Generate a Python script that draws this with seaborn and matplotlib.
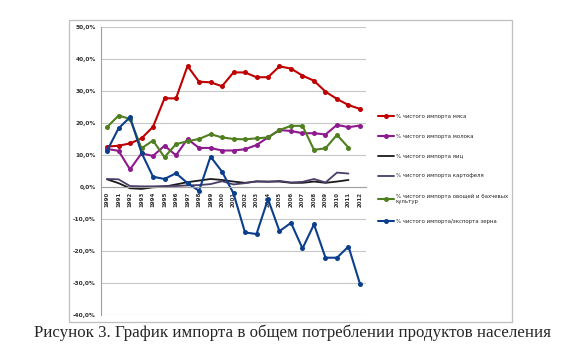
import numpy as np
import pandas as pd
import seaborn as sns
import matplotlib
matplotlib.use("Agg")
import matplotlib.pyplot as plt
from matplotlib.patches import Rectangle
from matplotlib.ticker import FuncFormatter

# годы и доли импорта, %
years = list(range(1990, 2013))

meat = [12.6, 12.9, 13.6, 15.2, 18.8, 27.7, 27.7, 37.8, 32.9, 32.7, 31.5, 35.8,
        35.8, 34.3, 34.3, 37.7, 37.0, 34.8, 33.2, 29.8, 27.5, 25.6, 24.4]
milk = [11.9, 11.3, 5.5, 10.5, 9.7, 12.9, 9.9, 15.0, 12.2, 12.2, 11.4, 11.4,
        11.8, 13.1, 15.5, 17.8, 17.5, 16.8, 16.8, 16.4, 19.4, 18.7, 19.2]
eggs = [2.4, 1.2, -0.4, -0.6, -0.1, 0.1, 0.8, 1.5, 2.0, 2.5, 2.2, 1.7,
        1.3, 1.7, 1.7, 1.7, 1.3, 1.3, 1.7, 1.3, 1.7, 2.2, np.nan]
potato = [2.5, 2.4, 0.3, 0.2, 0.2, 0.3, 0.3, 0.5, 0.6, 0.9, 1.8, 0.8,
          1.2, 1.8, 1.6, 1.9, 1.4, 1.6, 2.5, 1.4, 4.5, 4.2, np.nan]
veg = [18.7, 22.3, 21.3, 12.1, 14.5, 9.3, 13.4, 14.3, 15.0, 16.5, 15.5, 15.0,
       14.9, 15.2, 15.5, 17.8, 19.1, 19.1, 11.6, 12.1, 16.3, 12.3, np.nan]
grain = [11.3, 18.3, 21.8, 10.7, 3.2, 2.5, 4.3, 1.2, -1.2, 9.5, 4.8, -2.0,
         -14.2, -14.7, -3.8, -13.8, -11.2, -19.2, -11.7, -22.1, -22.1, -18.6, -30.3]

labels = [
    "% чистого импорта мяса",
    "% чистого импорта молока",
    "% чистого импорта яиц",
    "% чистого импорта картофеля",
    "% чистого импорта овощей и бахчевых\nкультур",
    "% чистого импорта/экспорта зерна",
]
colors = ["#C00000", "#8E1B8E", "#1A1A1A", "#4A3D68", "#4F7F1E", "#0B3F8C"]
has_marker = [True, True, False, False, True, True]

df = pd.DataFrame({"year": years})
for lab, vals in zip(labels, [meat, milk, eggs, potato, veg, grain]):
    df[lab] = vals

sns.set_style("white")
plt.rcParams["font.family"] = ["DejaVu Sans"]

fig = plt.figure(figsize=(5.81, 3.56), dpi=100)
ax = fig.add_axes([0.1743, 0.1152, 0.4552, 0.809])

for lab, col, mk in zip(labels, colors, has_marker):
    sns.lineplot(data=df, x="year", y=lab, ax=ax, color=col, label=lab,
                 marker="o" if mk else None, markersize=3.6 if mk else 0,
                 markeredgewidth=0, linewidth=1.5 if mk else 1.3)

ax.set_xlim(1989.5, 2012.5)
ax.set_ylim(-40, 50)
ax.set_yticks(range(-40, 51, 10))
ax.yaxis.set_major_formatter(FuncFormatter(lambda v, p: f"{v:.1f}%".replace(".", ",")))
ax.set_xticks(years)
ax.set_xticklabels([str(y) for y in years])
ax.set_xlabel("")
ax.set_ylabel("")
ax.grid(axis="y", color="#C8C8C8", linewidth=0.8)
ax.set_axisbelow(True)

for s in ["top", "right"]:
    ax.spines[s].set_visible(False)
ax.spines["left"].set_color("#A0A0A0")
ax.spines["bottom"].set_position(("data", 0))
ax.spines["bottom"].set_color("#A0A0A0")
ax.tick_params(axis="x", direction="out", length=2, width=0.6, color="#A0A0A0",
               labelsize=4.0, labelcolor="#303030", pad=1.5, labelrotation=90)
ax.tick_params(axis="y", length=2, width=0.6, color="#A0A0A0",
               labelsize=4.2, labelcolor="#303030", pad=2)
for t in ax.get_xticklabels() + ax.get_yticklabels():
    t.set_fontweight("bold")

ax.legend(loc="upper left", bbox_to_anchor=(0.6454, 0.688), bbox_transform=fig.transFigure,
          frameon=False, fontsize=3.9, handlelength=3.1, handletextpad=0.25,
          labelspacing=2.75, borderpad=0)

fig.patches.append(Rectangle((0.1188, 0.0955), 0.7625, 0.8483, transform=fig.transFigure,
                             fill=False, edgecolor="#BFBFBF", linewidth=0.9))

fig.text(0.503, 0.0646, "Рисунок 3. График импорта в общем потреблении продуктов населения",
         ha="center", va="center", fontsize=12.2, family=["Liberation Serif"])

fig.savefig("out.png", dpi=100)
